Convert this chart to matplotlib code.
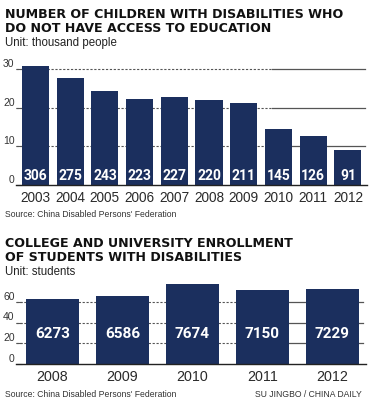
import matplotlib
matplotlib.use("Agg")
import matplotlib.pyplot as plt
import numpy as np

# Data
years1 = ["2003", "2004", "2005", "2006", "2007", "2008", "2009", "2010", "2011", "2012"]
children = [306, 275, 243, 223, 227, 220, 211, 145, 126, 91]  # thousand people
yticks1 = [0, 10, 20, 30]

years2 = ["2008", "2009", "2010", "2011", "2012"]
enroll = [6273, 6586, 7674, 7150, 7229]  # students
yticks2 = [0, 20, 40, 60]

BAR = "#1b2f5e"
GRID = "#555555"
W, H = 375, 403
fig = plt.figure(figsize=(W / 100, H / 100), dpi=100)
plt.rcParams['font.family'] = ['Liberation Sans', 'DejaVu Sans']

def px(x, y):
    return x / W, 1 - y / H

def grid_lines(ax, ticks, split):
    for t in ticks[1:]:
        ax.plot([ax.get_xlim()[0], split], [t, t], color=GRID, lw=0.8, ls=(0, (2, 1.5)), zorder=1)
        ax.plot([split, ax.get_xlim()[1] - 0.05], [t, t], color=GRID, lw=0.9, zorder=1)

# ---- top chart ----
ax1 = fig.add_axes([16 / W, 1 - 185 / H, (367 - 16) / W, (185 - 63) / H])
x1 = np.arange(len(years1))
ax1.set_xlim(-0.56, 9.55)
ax1.set_ylim(0, 31.5)
h1 = [v / 10 for v in children]
ax1.bar(x1, h1, width=0.78, color=BAR, zorder=2)
grid_lines(ax1, yticks1, 6.8)
for xi, v in zip(x1, children):
    ax1.text(xi, 2.3, str(v), color="white", fontsize=10, fontweight="bold",
             ha="center", va="center", zorder=3, family=['Roboto', 'DejaVu Sans'])
for s in ["top", "right", "left"]:
    ax1.spines[s].set_visible(False)
ax1.spines["bottom"].set_color("#222222")
ax1.spines["bottom"].set_linewidth(1.0)
ax1.set_xticks(x1)
ax1.set_xticklabels(years1, fontsize=9.8, color="#2a2a2a")
ax1.tick_params(axis="x", length=0, pad=4)
ax1.set_yticks(yticks1)
ax1.set_yticklabels([str(t) for t in yticks1], fontsize=7.5, color="#333333")
ax1.tick_params(axis="y", length=4, width=0.8, color=GRID, pad=1, direction="in")
for lab in ax1.get_yticklabels():
    lab.set_verticalalignment("bottom")

# ---- bottom chart ----
ax2 = fig.add_axes([16 / W, 1 - 364 / H, (366 - 16) / W, (364 - 281) / H])
x2 = np.arange(len(years2))
ax2.set_xlim(-0.52, 4.48)
ax2.set_ylim(0, 80)
h2 = [v / 100 for v in enroll]
ax2.bar(x2, h2, width=0.757, color=BAR, zorder=2)
grid_lines(ax2, yticks2, 2.65)
for xi, v in zip(x2, enroll):
    ax2.text(xi, 29, str(v), color="white", fontsize=11, fontweight="bold",
             ha="center", va="center", zorder=3, family=['Roboto', 'DejaVu Sans'])
for s in ["top", "right", "left"]:
    ax2.spines[s].set_visible(False)
ax2.spines["bottom"].set_color("#222222")
ax2.spines["bottom"].set_linewidth(1.0)
ax2.set_xticks(x2)
ax2.set_xticklabels(years2, fontsize=10.3, color="#2a2a2a")
ax2.tick_params(axis="x", length=0, pad=4)
ax2.set_yticks(yticks2)
ax2.set_yticklabels([str(t) for t in yticks2], fontsize=7.5, color="#333333")
ax2.tick_params(axis="y", length=4, width=0.8, color=GRID, pad=1, direction="in")
for lab in ax2.get_yticklabels():
    lab.set_verticalalignment("bottom")

# ---- texts ----
tfont = dict(fontsize=9.1, fontweight="bold", color="#111111", family=['DejaVu Sans'])
fig.text(*px(5, 18.5), "NUMBER OF CHILDREN WITH DISABILITIES WHO", **tfont)
fig.text(*px(5, 32.5), "DO NOT HAVE ACCESS TO EDUCATION", **tfont)
fig.text(*px(5, 46), "Unit: thousand people", fontsize=8.3, color="#222222")
fig.text(*px(5, 217), "Source: China Disabled Persons' Federation", fontsize=6.2, color="#333333")
fig.text(*px(5, 247), "COLLEGE AND UNIVERSITY ENROLLMENT", **tfont)
fig.text(*px(5, 261), "OF STUDENTS WITH DISABILITIES", **tfont)
fig.text(*px(5, 275), "Unit: students", fontsize=8.3, color="#222222")
fig.text(*px(5, 397), "Source: China Disabled Persons' Federation", fontsize=6.2, color="#333333")
fig.text(*px(362, 397), "SU JINGBO / CHINA DAILY", fontsize=6.2, color="#333333", ha="right")

fig.savefig("out.png", dpi=100)
